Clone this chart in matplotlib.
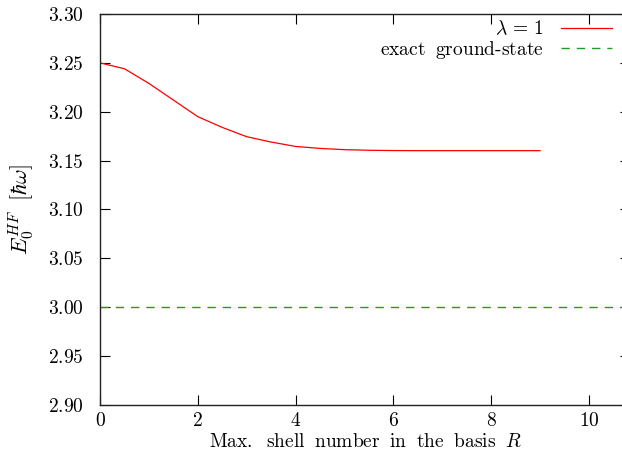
import matplotlib
matplotlib.use("Agg")
import matplotlib.pyplot as plt

plt.rcParams['mathtext.fontset'] = 'cm'
plt.rcParams['font.family'] = 'serif'
plt.rcParams['font.serif'] = ['DejaVu Serif']

R = [0, 0.5, 1.0, 1.5, 2.0, 2.5, 3.0, 3.5, 4.0, 4.5, 5.0, 5.5, 6.0, 6.5, 7.0, 7.5, 8.0, 8.5, 9.0]
E_hf = [3.250, 3.244, 3.229, 3.212, 3.195, 3.184, 3.1745, 3.169, 3.1645, 3.1625, 3.1612, 3.1606, 3.1603, 3.1602, 3.1602, 3.1602, 3.1602, 3.1602, 3.1602]
exact = 3.0
xticks = [0, 2, 4, 6, 8, 10]
yticks = [2.90, 2.95, 3.00, 3.05, 3.10, 3.15, 3.20, 3.25, 3.30]

W = 530  # axes width in px (right edge just beyond the image)
fig = plt.figure(figsize=(6.22, 4.59), dpi=100)
ax = fig.add_axes([100/622, 54/459, W/622, (405-14)/459])

ax.plot(R, E_hf, color='red', lw=0.9, label=r'$\lambda\,=\,1$')
ax.axhline(exact, color='#1e9e1e', lw=1.0, ls=(0, (6, 5)),
           label=r'$\mathrm{exact\;\ ground\text{-}state}$')

ax.set_xlim(0, 10.84)
ax.set_ylim(2.90, 3.30)
ax.set_xticks(xticks)
ax.set_xticklabels([rf'${t}$' for t in xticks])
ax.set_yticks(yticks)
ax.set_yticklabels([rf'${t:.2f}$' for t in yticks])
ax.tick_params(direction='in', length=7, width=0.8, top=True, right=True, labelsize=14)
ax.tick_params(axis='x', pad=5)
ax.tick_params(axis='y', pad=12)
for s in ax.spines.values():
    s.set_linewidth(1.0)
    s.set_color('#222222')

ax.set_xlabel(r'$\mathrm{Max.\;\ shell\;\ number\;\ in\;\ the\;\ basis}\;\ R$', fontsize=14, labelpad=2)
ax.set_ylabel(r'$E_0^{HF}\;\;[\hbar\omega]$', fontsize=16, labelpad=8)

leg = ax.legend(loc='upper right', frameon=False, markerfirst=False, fontsize=14,
                handlelength=2.6, handletextpad=0.9, labelspacing=0.0,
                borderaxespad=0.0, borderpad=0.0, bbox_to_anchor=(1 - 18/W, 1 - 6/391))
for t in leg.get_texts():
    t.set_ha('right')

fig.savefig('out.png', dpi=100)
